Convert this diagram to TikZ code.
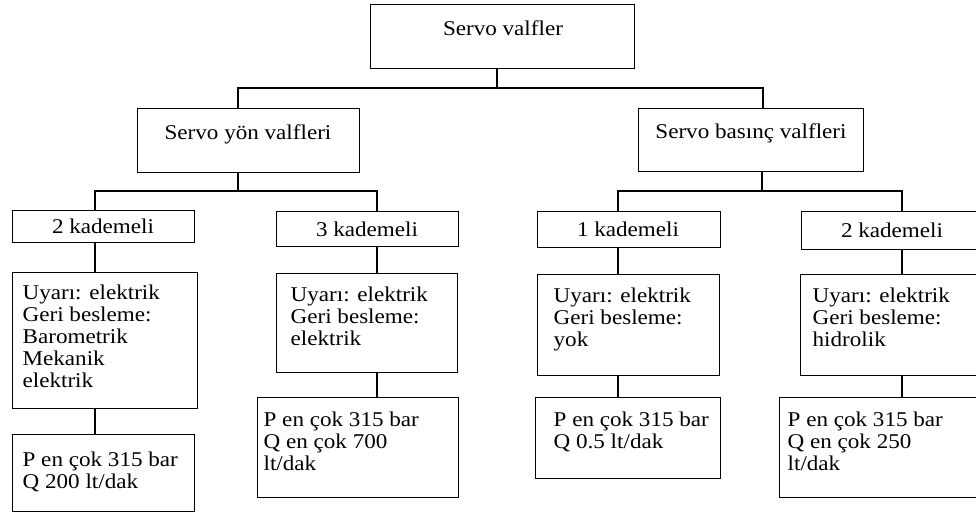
\documentclass[tikz,border=0pt]{standalone}
\usepackage{fontspec}
\setmainfont{Liberation Serif}[FakeStretch=1.1]
\usetikzlibrary{calc}
\begin{document}
\begin{tikzpicture}[x=1pt,y=-1pt,line width=1.3pt,
  box/.style={draw=black,rectangle,inner sep=0pt,anchor=north west},
  lbl/.style={inner sep=0pt,font=\fontsize{21}{22}\selectfont},
  body/.style={lbl,anchor=north west,align=left}]
\fill[white] (0,0) rectangle (976,521);
\useasboundingbox (0,0) rectangle (976,521);
\clip (0,0) rectangle (976,521);

% level 0 and 1
\node[box,minimum width=264pt,minimum height=64pt] (t) at (370,4) {};
\node[lbl] (tt) at (503,28) {Servo valfler};
\node[box,minimum width=222pt,minimum height=64pt] (a) at (137,108) {};
\node[lbl] (at) at (248,134) {Servo yön valfleri};
\node[box,minimum width=225pt,minimum height=63pt] (b) at (638,108) {};
\node[lbl] (bt) at (751,133) {Servo basınç valfleri};

% level 2
\node[box,minimum width=182pt,minimum height=32pt] (k1) at (12,210) {};
\node[lbl] (k1t) at (103,226) {2 kademeli};
\node[box,minimum width=182pt,minimum height=35pt] (k2) at (276,211) {};
\node[lbl] (k2t) at (367,229) {3 kademeli};
\node[box,minimum width=183pt,minimum height=36pt] (k3) at (537,211) {};
\node[lbl] (k3t) at (628,229) {1 kademeli};
\node[box,minimum width=182pt,minimum height=38pt] (k4) at (801,211) {};
\node[lbl] (k4t) at (892,230) {2 kademeli};

% level 3
\node[box,minimum width=185pt,minimum height=136pt] (u1) at (12,272) {};
\node[body] (u1t) at (22,284) {Uyarı: elektrik\\Geri besleme:\\Barometrik\\Mekanik\\elektrik};
\node[box,minimum width=181pt,minimum height=99pt] (u2) at (276,273) {};
\node[body] (u2t) at (290,286) {Uyarı: elektrik\\Geri besleme:\\elektrik};
\node[box,minimum width=182pt,minimum height=101pt] (u3) at (537,274) {};
\node[body] (u3t) at (553,287) {Uyarı: elektrik\\Geri besleme:\\yok};
\node[box,minimum width=183pt,minimum height=101pt] (u4) at (800,274) {};
\node[body] (u4t) at (812,287) {Uyarı: elektrik\\Geri besleme:\\hidrolik};

% level 4
\node[box,minimum width=182pt,minimum height=77pt] (p1) at (12,434) {};
\node[body] (p1t) at (22,451) {P en çok 315 bar\\Q 200 lt/dak};
\node[box,minimum width=201pt,minimum height=100pt] (p2) at (257,397) {};
\node[body] (p2t) at (263,411) {P en çok 315 bar\\Q en çok 700\\lt/dak};
\node[box,minimum width=185pt,minimum height=81pt] (p3) at (535,397) {};
\node[body] (p3t) at (553,411) {P en çok 315 bar\\Q 0.5 lt/dak};
\node[box,minimum width=204pt,minimum height=100pt] (p4) at (779,397) {};
\node[body] (p4t) at (787,411) {P en çok 315 bar\\Q en çok 250\\lt/dak};

% connectors
\coordinate (j0) at (497,88);
\coordinate (ca) at (238,88);
\coordinate (cb) at (763,88);
\draw (j0 |- t.south) -- (j0);
\draw (ca |- a.north) -- (ca) -- (cb) -- (cb |- b.north);
\coordinate (ja) at (238,191);
\coordinate (jb) at (762,191);
\coordinate (c1) at (95,191);
\coordinate (c2) at (377,191);
\coordinate (c3) at (618,191);
\coordinate (c4) at (902,191);
\draw (ja |- a.south) -- (ja);
\draw (jb |- b.south) -- (jb);
\draw (c1 |- k1.north) -- (c1) -- (c2) -- (c2 |- k2.north);
\draw (c3 |- k3.north) -- (c3) -- (c4) -- (c4 |- k4.north);
\foreach \c/\k/\u/\p in {c1/k1/u1/p1,c2/k2/u2/p2,c3/k3/u3/p3,c4/k4/u4/p4}{
  \draw (\c |- \k.south) -- (\c |- \u.north);
  \draw (\c |- \u.south) -- (\c |- \p.north);
}
\end{tikzpicture}
\end{document}
